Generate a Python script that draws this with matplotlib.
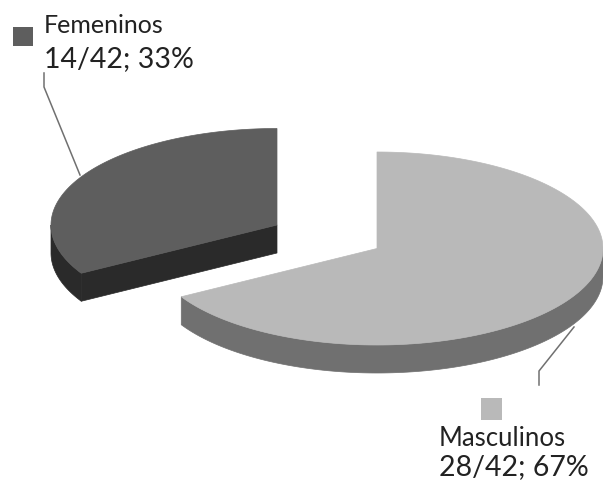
import numpy as np
import matplotlib
matplotlib.use("Agg")
import matplotlib.pyplot as plt
from matplotlib.patches import Polygon, Rectangle

# Data
categories = ["Masculinos", "Femeninos"]
values = [28, 14]
total = 42
percents = ["67%", "33%"]

top_colors = ["#b9b9b9", "#5e5e5e"]
side_colors = ["#707070", "#2a2a2a"]

plt.rcParams["font.family"] = ["Lato", "DejaVu Sans"]

fig = plt.figure(figsize=(6.03, 4.8), dpi=100)
ax = fig.add_axes([0, 0, 1, 1])
ax.set_xlim(0, 603)
ax.set_ylim(480, 0)
ax.axis("off")

rx, ry, depth = 226, 96.5, 28
centers = [(377, 248.5), (277, 225)]


def arc(cx, cy, a0, a1):
    # angles clockwise from 12 o'clock, y axis points down
    t = np.radians(np.linspace(a0, a1, 200))
    return np.column_stack([cx + rx * np.sin(t), cy - ry * np.cos(t)])


edges = np.cumsum([0] + values) / total * 360
for i in range(len(values)):
    cx, cy = centers[i]
    a0, a1 = edges[i], edges[i + 1]
    # outer wall only shows on the front half of the ellipse
    vis0, vis1 = max(a0, 90), min(a1, 270)
    wall = arc(cx, cy, vis0, vis1)
    ax.add_patch(Polygon(np.vstack([wall, wall[::-1] + [0, depth]]),
                         fc=side_colors[i], ec=side_colors[i], lw=0.5, zorder=2))
    # cut face of the back slice
    if a0 > 180:
        tip = arc(cx, cy, a0, a0)[0]
        face = [tip, (cx, cy), (cx, cy + depth), tip + [0, depth]]
        ax.add_patch(Polygon(face, fc=side_colors[i], ec=side_colors[i], lw=0.5, zorder=2))
    top = np.vstack([[(cx, cy)], arc(cx, cy, a0, a1)])
    ax.add_patch(Polygon(top, fc=top_colors[i], ec=top_colors[i], lw=0.5, zorder=3))

# leader lines
ax.plot([44, 44, 80], [73, 87, 175], color="#707070", lw=1.1, zorder=1)
ax.plot([539, 539, 574], [385, 371, 327], color="#707070", lw=1.1, zorder=1)

# legend keys and labels
ax.add_patch(Rectangle((13, 27), 20, 19, fc=top_colors[1], ec="none"))
ax.add_patch(Rectangle((481, 398), 21, 22, fc=top_colors[0], ec="none"))

ax.text(44, 33, categories[1], fontsize=18, color="#222222", va="baseline")
ax.text(44, 67, f"{values[1]}/{total}; {percents[1]}", fontsize=20.5, color="#222222", va="baseline")
ax.text(439, 446, categories[0], fontsize=18.5, color="#222222", va="baseline")
ax.text(439, 475, f"{values[0]}/{total}; {percents[0]}", fontsize=20.5, color="#222222", va="baseline")

fig.savefig("out.png", dpi=100)
